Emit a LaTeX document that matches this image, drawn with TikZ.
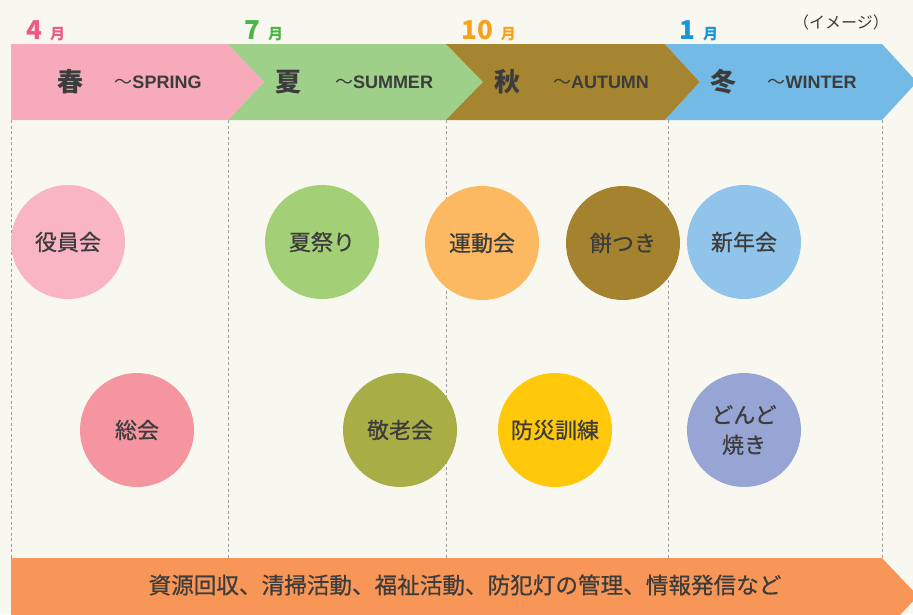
\documentclass[tikz,border=0pt]{standalone}
\usepackage{fontspec}
\setmainfont{Noto Sans CJK JP}
\newfontfamily\lat{Liberation Sans}
\newfontfamily\jpm{Noto Sans CJK JP}[FakeBold=0.6]
\definecolor{bg}{HTML}{F9F8F0}
\definecolor{springc}{HTML}{F7AABA}
\definecolor{summerc}{HTML}{9ED08A}
\definecolor{autumnc}{HTML}{A5852F}
\definecolor{winterc}{HTML}{73BBE6}
\definecolor{otherc}{HTML}{F79657}
\definecolor{txt}{HTML}{3C3C3C}
\definecolor{m4}{HTML}{EE5A84}
\definecolor{m7}{HTML}{4BB546}
\definecolor{m10}{HTML}{F7A21B}
\definecolor{m1}{HTML}{1496D8}
\definecolor{c1}{HTML}{F9B5C3}
\definecolor{c2}{HTML}{F595A0}
\definecolor{c3}{HTML}{A3D077}
\definecolor{c4}{HTML}{A8AE45}
\definecolor{c5}{HTML}{FDB862}
\definecolor{c6}{HTML}{A5822E}
\definecolor{c7}{HTML}{FFC80A}
\definecolor{c8}{HTML}{91C4EA}
\definecolor{c9}{HTML}{96A5D3}
\tikzset{
  event/.style={circle, minimum size=114pt, inner sep=0pt, text=txt, align=center,
    font=\fontsize{22}{30}\selectfont\jpm},
  season/.style={text=txt, font=\fontsize{26}{26}\selectfont\bfseries, inner sep=0pt},
  seasonen/.style={text=txt, font=\fontsize{18}{18}\selectfont\bfseries, inner sep=0pt},
  month/.style={anchor=base west, inner sep=0pt, font=\bfseries},
  guide/.style={draw=gray!75, line width=0.8pt, dash pattern=on 3pt off 2.5pt},
}
\newcommand{\mon}[1]{\fontsize{26}{26}\selectfont #1\hspace{8pt}\fontsize{15}{15}\selectfont 月}
\newcommand{\til}{{\rmfamily\mdseries ～}}
\begin{document}
\begin{tikzpicture}[x=1pt,y=-1pt]
\useasboundingbox (0,0) rectangle (913,614);
\fill[bg] (0,0) rectangle (913,614);
\begin{scope}
\clip (0,0) rectangle (913,614);
% bands
\fill[springc] (11,44) -- (228,44) -- (264,82) -- (228,120) -- (11,120) -- cycle;
\fill[summerc] (228,44) -- (446,44) -- (483,82) -- (446,120) -- (228,120) -- (264,82) -- cycle;
\fill[autumnc] (446,44) -- (665,44) -- (700,82) -- (665,120) -- (446,120) -- (483,82) -- cycle;
\fill[winterc] (665,44) -- (882,44) -- (917,82) -- (882,120) -- (665,120) -- (700,82) -- cycle;
% guides
\foreach \x/\n in {11/a,228/b,446/c,668/d,882/e} {
  \coordinate (t\n) at (\x,120);
  \coordinate (b\n) at (\x,558);
  \draw[guide] (t\n) -- (b\n);
}
% bottom band
\fill[otherc] (11,558) -- (882,558) -- (918,596) -- (882,634) -- (11,634) -- cycle;
\end{scope}
\node[text=txt, font=\fontsize{22.6}{22.6}\selectfont\jpm, inner sep=0pt] (other) at (465,585) {資源回収、清掃活動、福祉活動、防犯灯の管理、情報発信など};
% months
\node[month, text=m4] (mon4) at (26,39) {\mon{4}};
\node[month, text=m7] (mon7) at (244,39) {\mon{7}};
\node[month, text=m10] (mon10) at (461,39) {\mon{10}};
\node[month, text=m1] (mon1) at (679,39) {\mon{1}};
\node[text=txt, font=\fontsize{16}{16}\selectfont, inner sep=0pt] (image) at (841,22) {（イメージ）};
% seasons
\node[season] (spring) at (70,82) {春};
\node[seasonen] (springen) at (158,82) {\til\lat SPRING};
\node[season] (summer) at (288,82) {夏};
\node[seasonen] (summeren) at (384,82) {\til\lat SUMMER};
\node[season] (autumn) at (507,82) {秋};
\node[seasonen] (autumnen) at (601,82) {\til\lat AUTUMN};
\node[season] (winter) at (723,82) {冬};
\node[seasonen] (winteren) at (812,82) {\til\lat WINTER};
% events
\node[event, fill=c1] (yakuin) at (68,242) {役員会};
\node[event, fill=c2] (sokai) at (137,430) {総会};
\node[event, fill=c3] (natsu) at (322,242) {夏祭り};
\node[event, fill=c4] (keiro) at (400,430) {敬老会};
\node[event, fill=c5] (undo) at (482,243) {運動会};
\node[event, fill=c6] (mochi) at (623,243) {餅つき};
\node[event, fill=c7] (bosai) at (555,430) {防災訓練};
\node[event, fill=c8] (shinnen) at (744,242) {新年会};
\node[event, fill=c9] (dondo) at (744,430) {どんど\\焼き};
\end{tikzpicture}
\end{document}
